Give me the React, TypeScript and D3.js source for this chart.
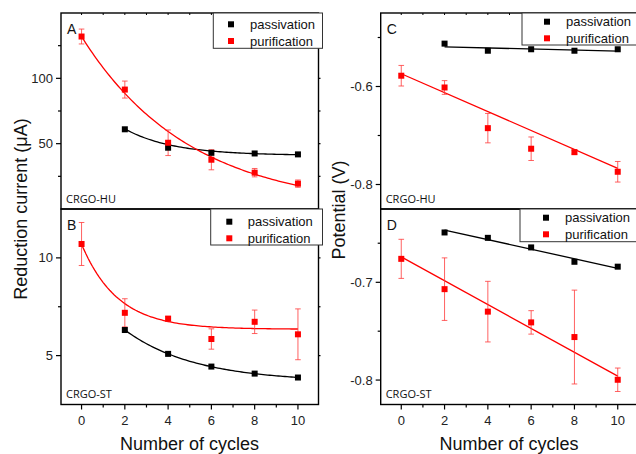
import React from "react";
import * as d3 from "d3";

// ---------- data ----------
const cycles = [0, 2, 4, 6, 8, 10];
const cyclesPass = [2, 4, 6, 8, 10];

const aPurif = [132, 91.4, 50.7, 37.7, 27.8, 19.4];
const aPurifErr = [5.7, 6.5, 9.8, 7.7, 3.2, 2.8];
const aPass = [61, 46.9, 43, 42.5, 41.8];

const bPurif = [10.71, 7.19, 6.89, 5.85, 6.73, 6.09];
const bPurifErr = [1.1, 0.72, 0.12, 0.52, 0.6, 1.3];
const bPass = [6.31, 5.09, 4.44, 4.08, 3.88];

const cPurif = [-0.578, -0.602, -0.685, -0.727, -0.734, -0.774];
const cPurifErr = [0.021, 0.014, 0.03, 0.024, 0.004, 0.021];
const cPass = [-0.5125, -0.527, -0.524, -0.527, -0.524];

const dPurif = [-0.676, -0.707, -0.73, -0.741, -0.756, -0.7997];
const dPurifErr = [0.02, 0.032, 0.031, 0.012, 0.048, 0.012];
const dPass = [-0.649, -0.6545, -0.6643, -0.679, -0.684];

// fitted curves: exponential decay y = y0 + amp*exp(-k(x-x0))
const aPurifFit = { y0: 0, amp: 132, k: 0.2, x0: 0 };
const aPassFit = { y0: 41, amp: 20.3, k: 0.45, x0: 2 };
const bPurifFit = { y0: 6.35, amp: 4.35, k: 0.6, x0: 0 };
const bPassFit = { y0: 3.66, amp: 2.65, k: 0.308, x0: 2 };
// linear fits: [x start, y start, x end, y end]
const cPurifLine = [0, -0.574, 10, -0.767];
const cPassLine = [2, -0.519, 10, -0.528];
const dPurifLine = [0, -0.674, 10, -0.796];
const dPassLine = [2, -0.6465, 10, -0.6857];

const xMajor = [0, 2, 4, 6, 8, 10];
const xMinor = [1, 3, 5, 7, 9];
const xTop = [0, 1, 2, 3, 4, 5, 6, 7, 8, 9, 10];

const aMajor = [50, 100];
const aMinor = [25, 75, 125];
const bMajor = [5, 10];
const bMinor = [7.5];
const cMajor = [-0.6, -0.8];
const cMinor = [-0.5, -0.7];
const dMajor = [-0.7, -0.8];
const dMinor = [-0.66, -0.75];

const seriesNames = ["passivation", "purification"];
const panelLetters = ["A", "B", "C", "D"];
const sampleNames = ["CRGO-HU", "CRGO-ST", "CRGO-HU", "CRGO-ST"];

const RED = "#ff0000";
const SANS = "'Liberation Sans', Arial, sans-serif";

type Fit = { y0: number; amp: number; k: number; x0: number };

function expPath(fit: Fit, xs: number, xe: number, x: any, y: any) {
  const pts: [number, number][] = d3.range(xs, xe + 0.0001, 0.1).map((v) => [
    v,
    fit.y0 + fit.amp * Math.exp(-fit.k * (v - fit.x0)),
  ]);
  return d3
    .line<[number, number]>()
    .x((d) => x(d[0]))
    .y((d) => y(d[1]))(pts) as string;
}

function linePath(l: number[], x: any, y: any) {
  return d3
    .line<number[]>()
    .x((d) => x(d[0]))
    .y((d) => y(d[1]))([
    [l[0], l[1]],
    [l[2], l[3]],
  ]) as string;
}

function Panel(props: {
  x: any;
  y: any;
  purif: number[];
  purifErr: number[];
  pass: number[];
  purifD: string;
  passD: string;
  major: number[];
  minor: number[];
  fmt: (v: number) => string;
  letter: string;
  sample: string;
  legend: { left: number; top: number; bottom: number; mx: number; tx: number; my: number[] };
  top: boolean;
  bottomAxis: boolean;
}) {
  const { x, y } = props;
  const [x0, x1] = x.range();
  const [y1, y0] = y.range(); // y1 bottom, y0 top
  const sq = 6;
  return (
    <g>
      {/* fits */}
      <path d={props.passD} fill="none" stroke="#000" strokeWidth={1.3} />
      <path d={props.purifD} fill="none" stroke={RED} strokeWidth={1.3} />
      {/* error bars */}
      {cycles.map((c, i) => {
        const cx = x(c);
        const ya = y(props.purif[i] + props.purifErr[i]);
        const yb = y(props.purif[i] - props.purifErr[i]);
        return (
          <g key={"e" + i} stroke="#ff3b3b" strokeOpacity={0.8} strokeWidth={1}>
            <line x1={cx} x2={cx} y1={ya} y2={yb} />
            <line x1={cx - 2.8} x2={cx + 2.8} y1={ya} y2={ya} />
            <line x1={cx - 2.8} x2={cx + 2.8} y1={yb} y2={yb} />
          </g>
        );
      })}
      {/* markers */}
      {cyclesPass.map((c, i) => (
        <rect key={"p" + i} x={x(c) - sq / 2} y={y(props.pass[i]) - sq / 2} width={sq} height={sq} fill="#000" />
      ))}
      {cycles.map((c, i) => (
        <rect key={"r" + i} x={x(c) - sq / 2} y={y(props.purif[i]) - sq / 2} width={sq} height={sq} fill={RED} />
      ))}
      {/* frame */}
      <rect x={x0} y={y0} width={x1 - x0} height={y1 - y0} fill="none" stroke="#000" strokeWidth={1.4} />
      {/* y ticks left */}
      {props.major.map((v) => (
        <g key={"ym" + v}>
          <line x1={x0 - 5} x2={x0} y1={y(v)} y2={y(v)} stroke="#000" strokeWidth={1.2} />
          <line x1={x1} x2={x1 + 2} y1={y(v)} y2={y(v)} stroke="#000" strokeWidth={1.2} />
          <text x={x0 - 8} y={y(v) + 4.5} textAnchor="end" fontSize={13} fontFamily={SANS} fill="#222">
            {props.fmt(v)}
          </text>
        </g>
      ))}
      {props.minor.map((v) => (
        <g key={"yn" + v}>
          <line x1={x0 - 3} x2={x0} y1={y(v)} y2={y(v)} stroke="#000" strokeWidth={1.2} />
          <line x1={x1} x2={x1 + 2} y1={y(v)} y2={y(v)} stroke="#000" strokeWidth={1.2} />
        </g>
      ))}
      {/* top ticks */}
      {props.top &&
        xTop.map((v) => (
          <line key={"xt" + v} x1={x(v)} x2={x(v)} y1={y0} y2={y0 + 2} stroke="#000" strokeWidth={1} />
        ))}
      {/* bottom axis */}
      {props.bottomAxis && (
        <g>
          {xMajor.map((v) => (
            <g key={"xm" + v}>
              <line x1={x(v)} x2={x(v)} y1={y1} y2={y1 + 5} stroke="#000" strokeWidth={1.2} />
              <text x={x(v)} y={y1 + 20} textAnchor="middle" fontSize={13} fontFamily={SANS} fill="#222">
                {v}
              </text>
            </g>
          ))}
          {xMinor.map((v) => (
            <line key={"xn" + v} x1={x(v)} x2={x(v)} y1={y1} y2={y1 + 3} stroke="#000" strokeWidth={1.2} />
          ))}
        </g>
      )}
      {/* panel letter + sample */}
      <text x={x0 + 6} y={y0 + 21} fontSize={14} fontFamily={SANS} fill="#111">
        {props.letter}
      </text>
      <text x={x0 + 5} y={y1 - 6.5} fontSize={11} fontFamily="'Open Sans', sans-serif" fill="#111">
        {props.sample}
      </text>
      {/* legend */}
      <g>
        <rect
          x={props.legend.left}
          y={y0}
          width={x1 - props.legend.left + 4}
          height={props.legend.bottom - y0}
          fill="#fff"
          stroke="#333"
          strokeWidth={1}
        />
        {seriesNames.map((s, i) => (
          <g key={s}>
            <rect
              x={props.legend.mx - 3}
              y={props.legend.my[i] - 3}
              width={6}
              height={6}
              fill={i === 0 ? "#000" : RED}
            />
            <text x={props.legend.tx} y={props.legend.my[i] + 4.5} fontSize={13} fontFamily={SANS} fill="#111">
              {s}
            </text>
          </g>
        ))}
      </g>
    </g>
  );
}

export default function App() {
  const xL = d3.scaleLinear().domain([-0.95, 10.95]).range([61, 318.5]);
  const xR = d3.scaleLinear().domain([-0.95, 10.95]).range([380.7, 638.3]);
  const yA = d3.scaleLinear().domain([0, 150]).range([209, 13]);
  const yB = d3.scaleLinear().domain([2.5, 12.5]).range([404.5, 209]);
  const yC = d3.scaleLinear().domain([-0.85, -0.45]).range([209, 13]);
  const yD = d3.scaleLinear().domain([-0.825, -0.625]).range([404.5, 209]);

  const fInt = (v: number) => String(v);
  const fDec = (v: number) => d3.format(".1f")(v).replace("−", "-");

  return (
    <svg
      width={636}
      height={454}
      viewBox="0 0 636 454"
      style={{ position: "absolute", left: 0, top: 0, background: "#fff" }}
    >
      <rect x={0} y={0} width={636} height={454} fill="#fff" />
      <Panel
        x={xL}
        y={yA}
        purif={aPurif}
        purifErr={aPurifErr}
        pass={aPass}
        purifD={expPath(aPurifFit, 0, 10, xL, yA)}
        passD={expPath(aPassFit, 2, 10, xL, yA)}
        major={aMajor}
        minor={aMinor}
        fmt={fInt}
        letter={panelLetters[0]}
        sample={sampleNames[0]}
        legend={{ left: 213.3, top: 13, bottom: 48.3, mx: 231, tx: 250, my: [24.3, 41] }}
        top={true}
        bottomAxis={false}
      />
      <Panel
        x={xL}
        y={yB}
        purif={bPurif}
        purifErr={bPurifErr}
        pass={bPass}
        purifD={expPath(bPurifFit, 0, 10, xL, yB)}
        passD={expPath(bPassFit, 2, 10, xL, yB)}
        major={bMajor}
        minor={bMinor}
        fmt={fInt}
        letter={panelLetters[1]}
        sample={sampleNames[1]}
        legend={{ left: 210.7, top: 209, bottom: 245, mx: 229.3, tx: 247.7, my: [221.7, 238.3] }}
        top={false}
        bottomAxis={true}
      />
      <Panel
        x={xR}
        y={yC}
        purif={cPurif}
        purifErr={cPurifErr}
        pass={cPass}
        purifD={linePath(cPurifLine, xR, yC)}
        passD={linePath(cPassLine, xR, yC)}
        major={cMajor}
        minor={cMinor}
        fmt={fDec}
        letter={panelLetters[2]}
        sample={sampleNames[2]}
        legend={{ left: 522, top: 13, bottom: 45, mx: 547, tx: 566, my: [21.7, 38.3] }}
        top={true}
        bottomAxis={false}
      />
      <Panel
        x={xR}
        y={yD}
        purif={dPurif}
        purifErr={dPurifErr}
        pass={dPass}
        purifD={linePath(dPurifLine, xR, yD)}
        passD={linePath(dPassLine, xR, yD)}
        major={dMajor}
        minor={dMinor}
        fmt={fDec}
        letter={panelLetters[3]}
        sample={sampleNames[3]}
        legend={{ left: 520, top: 209, bottom: 241.7, mx: 546, tx: 565, my: [217.7, 234.3] }}
        top={false}
        bottomAxis={true}
      />
      {/* axis titles */}
      <text
        transform="translate(27,209) rotate(-90)"
        textAnchor="middle"
        fontSize={18}
        fontFamily={SANS}
        fill="#111"
      >
        Reduction current (μA)
      </text>
      <text
        transform="translate(345,210) rotate(-90)"
        textAnchor="middle"
        fontSize={18}
        fontFamily={SANS}
        fill="#111"
      >
        Potential (V)
      </text>
      <text x={189.5} y={450} textAnchor="middle" fontSize={18} fontFamily={SANS} fill="#111">
        Number of cycles
      </text>
      <text x={509} y={450} textAnchor="middle" fontSize={18} fontFamily={SANS} fill="#111">
        Number of cycles
      </text>
    </svg>
  );
}
